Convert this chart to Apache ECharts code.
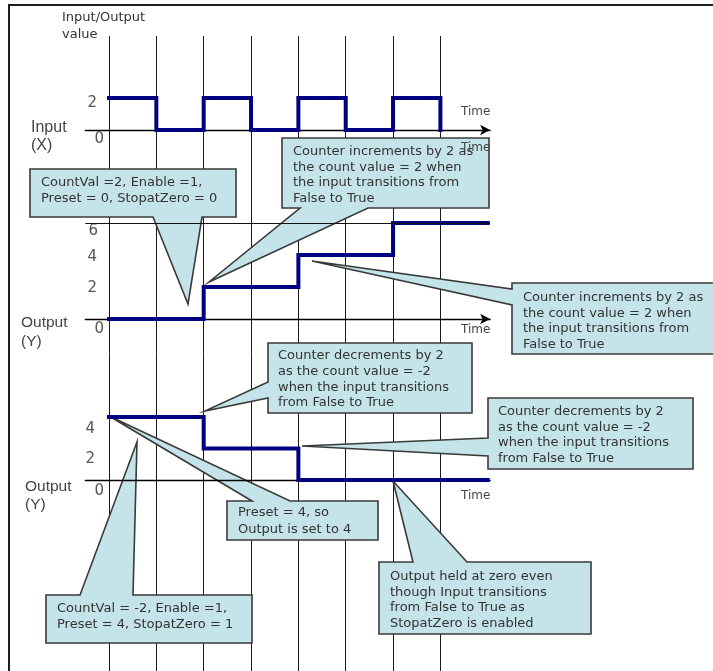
<!DOCTYPE html>
<html><head><meta charset="utf-8">
<script src="https://cdn.jsdelivr.net/npm/echarts@6/dist/echarts.min.js"></script>
<style>html,body{margin:0;padding:0;background:#fff}#c{width:713px;height:671px}</style>
</head><body><div id="c"></div>
<script>
// ---- data ----
const gridTimes = [0, 1, 2, 3, 4, 5, 6, 7];
const inputTimes = [0, 1, 2, 3, 4, 5, 6, 7];
const inputValues = [2, 0, 2, 0, 2, 0, 2, 0];
const out1Times = [0, 2, 4, 6, 8];
const out1Values = [0, 2, 4, 6, 6];
const out2Times = [0, 2, 4, 8];
const out2Values = [4, 2, 0, 0];
const inputTicks = [0, 2];
const out1Ticks = [0, 2, 4, 6];
const out2Ticks = [0, 2, 4];
const out1RefLevels = [6];
const axisTitle = 'Input/Output\nvalue';
const panelNames = ['Input\n(X)', 'Output\n(Y)', 'Output\n(Y)'];
const timeLabel = 'Time';
const calloutTexts = [
  'CountVal =2, Enable =1,\nPreset = 0, StopatZero = 0',
  'Counter increments by 2 as\nthe count value = 2 when\nthe input transitions from\nFalse to True',
  'Counter increments by 2 as\nthe count value = 2 when\nthe input transitions from\nFalse to True',
  'Counter decrements by 2\nas the count value = -2\nwhen the input transitions\nfrom False to True',
  'Counter decrements by 2\nas the count value = -2\nwhen the input transitions\nfrom False to True',
  'Preset = 4, so\nOutput is set to 4',
  'CountVal = -2, Enable =1,\nPreset = 4, StopatZero = 1',
  'Output held at zero even\nthough Input transitions\nfrom False to True as\nStopatZero is enabled'
];

// ---- layout / style ----
const BLUE = '#000080';
const UNIT = 47.343;
const X0 = 109;
const XMIN = -0.5, XMAX = 8.05;
const panelLeft = X0 + XMIN * UNIT;
const panelWidth = (XMAX - XMIN) * UNIT;

const calloutGeom = [
  {box:[30,169,236,217], edge:'bottom', a:153, b:202, tip:[188,304], tx:41, ty:183, lh:16},
  {box:[282,138,489,208], edge:'bottom', a:300, b:368, tip:[209,282], tx:293, ty:152, lh:15.4},
  {box:[512,283,716,354], edge:'left', a:289, b:305, tip:[312,261], tx:523, ty:298, lh:15.4},
  {box:[268,343,472,413], edge:'left', a:382, b:398, tip:[205,411], tx:278, ty:356, lh:15.6},
  {box:[488,398,693,469], edge:'left', a:438, b:456, tip:[302,446], tx:498, ty:412, lh:15.4},
  {box:[227,501,378,540], edge:'top', a:252, b:290, tip:[109,416], tx:238, ty:513, lh:16.5},
  {box:[46,595,252,643], edge:'top', a:80, b:133, tip:[137,442], tx:57, ty:609, lh:16},
  {box:[379,562,591,634], edge:'top', a:413, b:467, tip:[393,481], tx:390, ty:577, lh:15.4}
];

function calloutPoints(c) {
  const [x1, y1, x2, y2] = c.box;
  const pts = [[x1, y1]];
  if (c.edge === 'top') pts.push([c.a, y1], c.tip, [c.b, y1]);
  pts.push([x2, y1], [x2, y2]);
  if (c.edge === 'bottom') pts.push([c.b, y2], c.tip, [c.a, y2]);
  pts.push([x1, y2]);
  if (c.edge === 'left') pts.push([x1, c.b], c.tip, [x1, c.a]);
  return pts;
}

const graphics = [];
calloutGeom.forEach((c, i) => {
  graphics.push({type:'polygon', z:2, silent:true, shape:{points:calloutPoints(c)},
    style:{fill:'#c4e4ea', stroke:'#3a3a3a', lineWidth:1.6, lineJoin:'miter'}});
  graphics.push({type:'text', z:2, silent:true, x:c.tx, y:c.ty - c.lh/2,
    style:{text:calloutTexts[i], font:'13px "DejaVu Sans"', fill:'#333', lineHeight:c.lh, verticalAlign:'top', align:'left'}});
});
function txt(text, x, yc, font, fill, lh) {
  graphics.push({type:'text', z:12, silent:true, x:x, y:yc - lh/2,
    style:{text:text, font:font, fill:fill, lineHeight:lh, verticalAlign:'top', align:'left'}});
}
txt(axisTitle, 62, 18, '13px "DejaVu Sans"', '#333', 17);
txt(panelNames[0], 31, 128, '16px "Liberation Sans"', '#444', 18);
txt(panelNames[1], 21, 323, '15.5px "Liberation Sans"', '#444', 19);
txt(panelNames[2], 25, 487, '15.5px "Liberation Sans"', '#444', 18);
[112, 148, 330, 496].forEach(y => txt(timeLabel, 461, y, '12px "DejaVu Sans"', '#444', 14));
graphics.push({type:'line', z:20, silent:true, shape:{x1:8, y1:5, x2:713, y2:5}, style:{stroke:'#1e1e1e', lineWidth:2}});
graphics.push({type:'line', z:20, silent:true, shape:{x1:9, y1:4, x2:9, y2:671}, style:{stroke:'#1e1e1e', lineWidth:2}});

function tickAxis(gi, max, ticks, pads) {
  const rich = {};
  ticks.forEach(v => {
    rich['t' + v] = {fontSize:15, fontFamily:'DejaVu Sans', color:'#555', padding:pads[v]};
  });
  return {
    gridIndex:gi, type:'value', min:0, max:max, interval:2, offset:-(X0 - panelLeft),
    axisLine:{show:false, onZero:false}, axisTick:{show:false}, splitLine:{show:false},
    axisLabel:{show:true, margin:5, fontSize:15, fontFamily:'DejaVu Sans', color:'#555',
      formatter: v => ticks.indexOf(v) >= 0 ? '{t' + v + '|' + v + '}' : '', rich:rich},
    z:3
  };
}
function timeAxis(gi, arrow) {
  return {
    gridIndex:gi, type:'value', min:XMIN, max:XMAX,
    axisLine:{show:true, onZero:false, symbol: arrow ? ['none','arrow'] : 'none', symbolSize:[8,10],
      lineStyle:{color:'#000', width:1.3}},
    axisTick:{show:false}, axisLabel:{show:false}, splitLine:{show:false}, z:3
  };
}
function stepSeries(gi, xs, ys, extra) {
  return Object.assign({
    type:'line', xAxisIndex:gi, yAxisIndex:gi, step:'end', clip:false, silent:true,
    symbol:'none', data: xs.map((t, i) => [t, ys[i]]),
    lineStyle:{color:BLUE, width:4, join:'miter', cap:'square'}, z:4
  }, extra || {});
}

const option = {
  animation:false,
  backgroundColor:'#fff',
  grid:[
    {left:X0, top:36, width:7 * UNIT, height:640},
    {left:panelLeft, top:90, width:panelWidth, height:40},
    {left:panelLeft, top:215, width:panelWidth, height:104},
    {left:panelLeft, top:409.1, width:panelWidth, height:70.9}
  ],
  xAxis:[
    {gridIndex:0, type:'value', min:gridTimes[0], max:gridTimes[gridTimes.length-1], interval:1,
      axisLine:{show:false}, axisTick:{show:false}, axisLabel:{show:false},
      splitLine:{show:true, lineStyle:{color:'#1a1a1a', width:1}}},
    timeAxis(1, true), timeAxis(2, true), timeAxis(3, false)
  ],
  yAxis:[
    {gridIndex:0, type:'value', min:0, max:1, show:false},
    tickAxis(1, 2.5, inputTicks, {0:[18,0,0,0], 2:[10,7,0,0]}),
    tickAxis(2, 6.5, out1Ticks, {0:[20,0,0,0], 2:[2,7,0,0], 4:[4,7,0,0], 6:[16,6,0,0]}),
    tickAxis(3, 4.5, out2Ticks, {0:[22,0,0,0], 2:[21,9,0,0], 4:[24,9,0,0]})
  ],
  series:[
    {type:'line', xAxisIndex:0, yAxisIndex:0, data:[], silent:true},
    stepSeries(1, inputTimes, inputValues),
    stepSeries(2, out1Times, out1Values, {
      markLine:{silent:true, symbol:'none', label:{show:false},
        lineStyle:{color:'#111', width:1, type:'solid'},
        data: out1RefLevels.map(v => ({yAxis:v}))}
    }),
    stepSeries(3, out2Times, out2Values)
  ],
  graphic:{elements:graphics}
};
const chart = echarts.init(document.getElementById('c'), null, {renderer:'canvas'});
chart.setOption(option);
</script>
</body></html>
